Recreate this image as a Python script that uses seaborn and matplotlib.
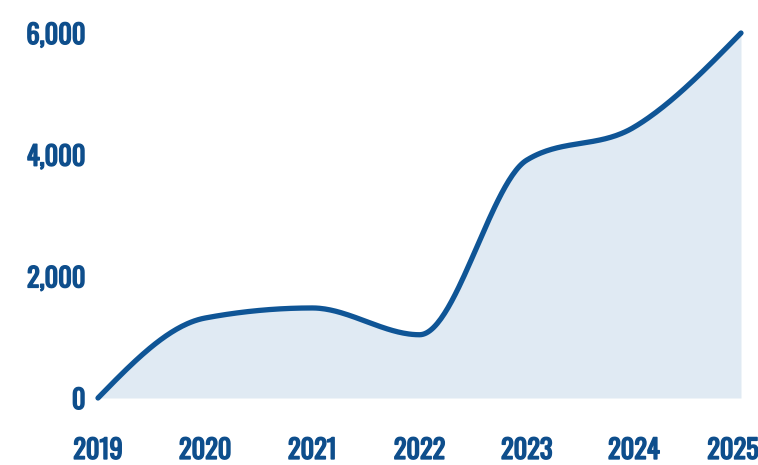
import numpy as np
import pandas as pd
import matplotlib
matplotlib.use("Agg")
import matplotlib.pyplot as plt
import matplotlib.patheffects as pe
import matplotlib.transforms as mtransforms
import seaborn as sns
from matplotlib.ticker import FuncFormatter

years = [2019, 2020, 2021, 2022, 2023, 2024, 2025]
values = [0, 1315, 1480, 1040, 3910, 4450, 6000]
y_ticks = [0, 2000, 4000, 6000]

LINE = "#0f5596"
TEXT = "#0e4e8c"
FILL = "#e0eaf3"

sns.set_theme(style="white")
plt.rcParams["font.family"] = ["Oswald", "DejaVu Sans"]


def monotone_curve(x, y, n=60):
    # Fritsch-Carlson monotone cubic (like d3.curveMonotoneX) for rendering
    x = np.asarray(x, float)
    y = np.asarray(y, float)
    h = np.diff(x)
    s = np.diff(y) / h
    m = np.zeros_like(y)
    for i in range(1, len(y) - 1):
        if s[i - 1] * s[i] <= 0:
            m[i] = 0.0
        else:
            p = (s[i - 1] * h[i] + s[i] * h[i - 1]) / (h[i - 1] + h[i])
            m[i] = (np.sign(s[i - 1]) + np.sign(s[i])) * min(abs(s[i - 1]), abs(s[i]), 0.5 * abs(p))
    m[0] = (3 * s[0] - m[1]) / 2
    m[-1] = (3 * s[-1] - m[-2]) / 2
    xs, ys = [], []
    for i in range(len(h)):
        t = np.linspace(0, 1, n, endpoint=(i == len(h) - 1))
        h00 = 2 * t**3 - 3 * t**2 + 1
        h10 = t**3 - 2 * t**2 + t
        h01 = -2 * t**3 + 3 * t**2
        h11 = t**3 - t**2
        xs.append(x[i] + t * h[i])
        ys.append(h00 * y[i] + h10 * h[i] * m[i] + h01 * y[i + 1] + h11 * h[i] * m[i + 1])
    return np.concatenate(xs), np.concatenate(ys)


cx, cy = monotone_curve(years, values)
curve = pd.DataFrame({"year": cx, "value": cy})

fig = plt.figure(figsize=(7.58, 4.65), dpi=100)
ax = fig.add_axes([98 / 758, (465 - 398) / 465, (741 - 98) / 758, (398 - 33) / 465])

ax.fill_between(curve["year"], 0, curve["value"], color=FILL, linewidth=0, zorder=1)
sns.lineplot(data=curve, x="year", y="value", ax=ax, color=LINE, linewidth=3.8,
             sort=False, estimator=None, zorder=3)
for l in ax.lines:
    l.set_clip_on(False)
    l.set_solid_capstyle("round")

ax.set_xlim(years[0], years[-1])
ax.set_ylim(0, 6000)
ax.set_xticks(years)
ax.set_xticklabels([str(y) for y in years])
ax.set_yticks(y_ticks)
ax.yaxis.set_major_formatter(FuncFormatter(lambda v, p: f"{int(v):,}"))
ax.set_xlabel("")
ax.set_ylabel("")
for side in ax.spines.values():
    side.set_visible(False)
ax.tick_params(axis="both", length=0, colors=TEXT, labelsize=19)
ax.tick_params(axis="x", pad=28)
ax.tick_params(axis="y", pad=9)
bold = [pe.withStroke(linewidth=1.1, foreground=TEXT)]
for lab in ax.get_xticklabels() + ax.get_yticklabels():
    lab.set_fontweight("bold")
    lab.set_color(TEXT)
    lab.set_path_effects(bold)
# keep the last year label inside the figure, as in the reference
last = ax.get_xticklabels()[-1]
last.set_transform(last.get_transform() + mtransforms.ScaledTranslation(-8 / 100, 0, fig.dpi_scale_trans))
ax.grid(False)

fig.savefig("out.png", dpi=100, facecolor="white")
